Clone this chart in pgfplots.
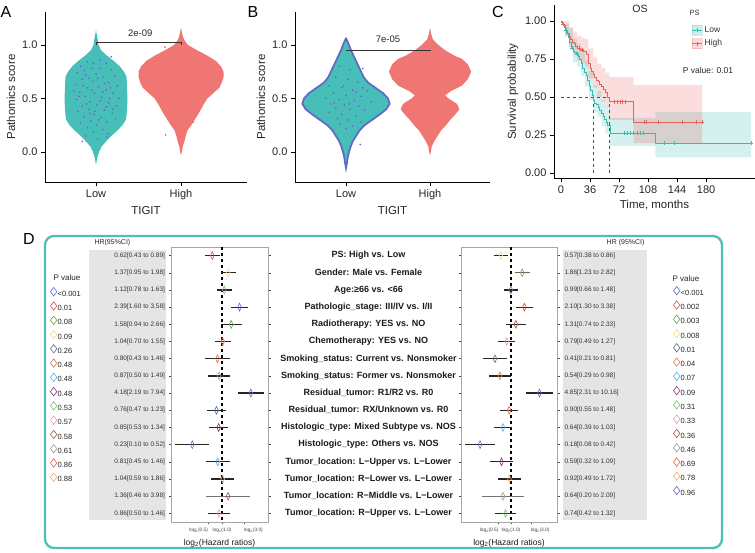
\documentclass[border=0pt]{standalone}
\usepackage{pgfplots}
\pgfplotsset{compat=1.18}
\usepackage{pgfplotstable}
\usepackage{fontspec}
\setmainfont{Liberation Sans}
\setsansfont{Liberation Sans}

\definecolor{vteal}{RGB}{72,190,184}
\definecolor{vred}{RGB}{240,118,115}
\definecolor{vdot}{RGB}{110,95,210}
\definecolor{vout}{RGB}{95,108,198}
\definecolor{kmteal}{RGB}{60,185,180}
\definecolor{kmred}{RGB}{232,98,94}
\definecolor{boxteal}{RGB}{78,190,186}
\definecolor{pA}{RGB}{95,110,205}
\definecolor{pB}{RGB}{222,80,70}
\definecolor{pC}{RGB}{100,165,80}
\definecolor{pD}{RGB}{238,226,120}
\definecolor{pE}{RGB}{75,115,155}
\definecolor{pF}{RGB}{215,120,70}
\definecolor{pG}{RGB}{85,175,225}
\definecolor{pH}{RGB}{135,50,125}
\definecolor{pI}{RGB}{115,195,100}
\definecolor{pJ}{RGB}{228,155,185}
\definecolor{pK}{RGB}{160,90,60}
\definecolor{pL}{RGB}{155,155,155}
\definecolor{pM}{RGB}{232,100,70}
\definecolor{pN}{RGB}{242,170,110}
\definecolor{pO}{RGB}{105,100,185}
\definecolor{ptred}{RGB}{225,95,95}

\newcommand{\fs}[1]{\fontsize{#1}{#1}\selectfont}
% forest row: row, HR, lower, upper, diamond colour, line colour (x axis in log2 units)
\newcommand{\frow}[6]{%
  \addplot[#6, line width=1.3pt, forget plot] table[row sep=\\, x expr={ln(\thisrow{v})/ln(2)}, y=r] {v r\\ #3 #1\\ #4 #1\\};
  \addplot[only marks, mark=diamond, mark size=3.9pt, #5, mark options={xscale=0.62, line width=0.6pt, fill=none}, forget plot] table[row sep=\\, x expr={ln(\thisrow{v})/ln(2)}, y=r] {v r\\ #2 #1\\};
}

\pgfplotstableread{
y w
-0.12 0
-0.05 0.015
0.00 0.035
0.05 0.065
0.10 0.12
0.15 0.18
0.20 0.25
0.25 0.31
0.30 0.35
0.35 0.36
0.40 0.365
0.50 0.37
0.60 0.365
0.70 0.36
0.75 0.33
0.80 0.28
0.85 0.21
0.90 0.13
0.95 0.06
1.00 0.03
1.05 0.02
1.14 0
1.05 -0.02
1.00 -0.03
0.95 -0.06
0.90 -0.13
0.85 -0.21
0.80 -0.28
0.75 -0.33
0.70 -0.36
0.60 -0.365
0.50 -0.37
0.40 -0.365
0.35 -0.36
0.30 -0.35
0.25 -0.31
0.20 -0.25
0.15 -0.18
0.10 -0.12
0.05 -0.065
0.00 -0.035
-0.05 -0.015
}\aLow
\pgfplotstableread{
y w
-0.03 0
0.00 0.01
0.05 0.02
0.10 0.04
0.15 0.055
0.20 0.075
0.25 0.12
0.30 0.16
0.35 0.20
0.40 0.235
0.45 0.27
0.50 0.31
0.55 0.38
0.60 0.45
0.65 0.48
0.70 0.50
0.75 0.50
0.80 0.47
0.85 0.41
0.90 0.31
0.95 0.19
1.00 0.08
1.05 0.035
1.10 0.015
1.16 0
1.10 -0.015
1.05 -0.035
1.00 -0.08
0.95 -0.19
0.90 -0.31
0.85 -0.41
0.80 -0.47
0.75 -0.50
0.70 -0.50
0.65 -0.48
0.60 -0.45
0.55 -0.38
0.50 -0.31
0.45 -0.27
0.40 -0.235
0.35 -0.20
0.30 -0.16
0.25 -0.12
0.20 -0.075
0.15 -0.055
0.10 -0.04
0.05 -0.02
0.00 -0.01
}\aHigh
\pgfplotstableread{
y w
-0.15 0
-0.10 0.012
-0.05 0.02
0.00 0.035
0.05 0.055
0.10 0.08
0.15 0.12
0.20 0.16
0.25 0.22
0.30 0.31
0.35 0.40
0.40 0.48
0.45 0.52
0.50 0.50
0.55 0.44
0.60 0.35
0.65 0.26
0.70 0.21
0.75 0.18
0.80 0.15
0.85 0.12
0.90 0.09
0.95 0.06
1.00 0.035
1.03 0.02
1.06 0
1.03 -0.02
1.00 -0.035
0.95 -0.06
0.90 -0.09
0.85 -0.12
0.80 -0.15
0.75 -0.18
0.70 -0.21
0.65 -0.26
0.60 -0.35
0.55 -0.44
0.50 -0.50
0.45 -0.52
0.40 -0.48
0.35 -0.40
0.30 -0.31
0.25 -0.22
0.20 -0.16
0.15 -0.12
0.10 -0.08
0.05 -0.055
0.00 -0.035
-0.05 -0.02
-0.10 -0.012
}\bLow
\pgfplotstableread{
y w
-0.03 0
0.00 0.01
0.05 0.02
0.10 0.05
0.15 0.09
0.20 0.13
0.25 0.19
0.30 0.24
0.35 0.30
0.40 0.35
0.45 0.32
0.50 0.22
0.53 0.18
0.57 0.25
0.62 0.38
0.68 0.45
0.75 0.49
0.82 0.45
0.87 0.38
0.90 0.29
0.95 0.18
1.00 0.10
1.05 0.035
1.10 0.015
1.16 0
1.10 -0.015
1.05 -0.035
1.00 -0.10
0.95 -0.18
0.90 -0.29
0.87 -0.38
0.82 -0.45
0.75 -0.49
0.68 -0.45
0.62 -0.38
0.57 -0.25
0.53 -0.18
0.50 -0.22
0.45 -0.32
0.40 -0.35
0.35 -0.30
0.30 -0.24
0.25 -0.19
0.20 -0.13
0.15 -0.09
0.10 -0.05
0.05 -0.02
0.00 -0.01
}\bHigh

\pgfplotsset{
  vax/.style={scale only axis, height=170pt, ymin=-0.28, ymax=1.308,
    axis x line*=bottom, axis y line*=left,
    axis line style={-, line width=0.8pt, black},
    tick style={line width=0.8pt, black}, major tick length=4pt, tick align=outside,
    xtick={1,2}, xticklabels={Low,High},
    ytick={0,0.5,1}, yticklabels={0.0,0.5,1.0},
    ticklabel style={font=\fs{11}, text=black!85},
    xlabel={TIGIT}, ylabel={Pathomics score},
    label style={font=\fs{11.5}, text=black!85}, clip=false},
}

\begin{document}
\begin{tikzpicture}[x=1pt,y=1pt]

% ---------------- Panel A ----------------
\node[font=\fs{16}] at (6pt,541pt) {A};
\begin{axis}[vax, at={(45pt,371pt)}, anchor=south west, width=202pt, xmin=0.4, xmax=2.776]
\addplot[fill=vteal, draw=none] table[x expr=1+\thisrow{w}, y=y]{\aLow} -- cycle;
\addplot[fill=vred, draw=none] table[x expr=2+\thisrow{w}, y=y]{\aHigh} -- cycle;
\addplot[only marks, mark=*, mark size=0.6pt, vdot] coordinates {
(0.82,0.80) (0.90,0.84) (1.05,0.86) (1.12,0.83) (0.95,0.78) (1.18,0.77) (0.78,0.74) (0.88,0.72) (1.00,0.73) (1.09,0.70)
(1.22,0.71) (0.84,0.68) (0.96,0.66) (1.15,0.65) (1.25,0.62) (0.76,0.63) (0.90,0.60) (1.03,0.61) (1.12,0.58) (0.81,0.56)
(0.98,0.55) (1.20,0.55) (0.87,0.52) (1.07,0.51) (1.27,0.50) (0.77,0.49) (0.93,0.47) (1.15,0.46) (1.01,0.44) (0.84,0.43)
(1.24,0.43) (0.92,0.40) (1.10,0.39) (0.79,0.38) (1.19,0.36) (0.98,0.35) (0.86,0.33) (1.06,0.32) (1.23,0.31) (0.94,0.29)
(1.13,0.28) (0.82,0.27) (1.01,0.25) (0.90,0.23) (1.08,0.21) (0.97,0.19) (1.14,0.17) (0.88,0.15) (1.02,0.12)
(0.86,0.76) (1.02,0.69) (1.17,0.60) (0.95,0.58) (1.05,0.48) (0.89,0.45) (1.12,0.42) (0.99,0.38) (1.03,0.30) (0.93,0.36)
(1.08,0.56) (0.80,0.52) (1.16,0.50) (0.92,0.69) (1.20,0.40) (1.05,0.78) (0.85,0.62) (0.97,0.83) (1.10,0.64) (0.74,0.57)
(1.18,0.89) (0.84,0.10) (1.13,0.14)};
\addplot[only marks, mark=*, mark size=0.6pt, ptred] coordinates {(1.81,0.98) (2.14,0.28) (1.82,0.16)};
\addplot[black!80, line width=0.5pt] coordinates {(1,1.0) (1,1.023) (2,1.023) (2,1.0)};
\node[font=\fs{9.5}, text=black!85] at (axis cs:1.52,1.11) {2e-09};
\end{axis}

% ---------------- Panel B ----------------
\node[font=\fs{16}] at (253pt,541pt) {B};
\begin{axis}[vax, at={(295pt,371pt)}, anchor=south west, width=195pt, xmin=0.393, xmax=2.714]
\addplot[fill=vteal, draw=vout, line width=1.8pt] table[x expr=1+\thisrow{w}, y=y]{\bLow} -- cycle;
\addplot[fill=vred, draw=none] table[x expr=2+\thisrow{w}, y=y]{\bHigh} -- cycle;
\addplot[only marks, mark=*, mark size=0.6pt, vdot] coordinates {
(0.92,0.80) (1.05,0.77) (1.20,0.78) (0.88,0.70) (1.02,0.68) (1.14,0.65) (0.80,0.62) (0.95,0.60) (1.08,0.58) (1.25,0.57)
(0.85,0.55) (1.00,0.53) (1.18,0.52) (0.76,0.50) (0.92,0.49) (1.10,0.48) (1.30,0.47) (0.82,0.45) (0.98,0.44) (1.15,0.43)
(0.88,0.41) (1.05,0.40) (1.22,0.39) (0.80,0.37) (0.95,0.35) (1.12,0.34) (0.90,0.31) (1.03,0.30) (1.18,0.28) (0.93,0.26)
(1.08,0.24) (1.00,0.22) (1.17,0.07) (0.97,0.62) (1.12,0.56) (0.86,0.46) (1.20,0.60) (1.04,0.45)};
\addplot[black!80, line width=0.5pt] coordinates {(1,0.94) (1,0.953) (2,0.953) (2,0.94)};
\node[font=\fs{9.5}, text=black!85] at (axis cs:1.5,1.053) {7e-05};
\end{axis}

% ---------------- Panel C ----------------
\node[font=\fs{16}] at (498pt,541pt) {C};
\begin{axis}[at={(554pt,375pt)}, anchor=south west, scale only axis, width=201pt, height=173pt,
  xmin=-8.7, xmax=240.7, ymin=-0.033, ymax=1.105,
  axis x line*=bottom, axis y line*=left,
  axis line style={-, line width=0.8pt, black},
  tick style={line width=0.8pt, black}, major tick length=4pt, tick align=outside,
  xtick={0,36,72,108,144,180}, xticklabels={0,36,72,108,144,180},
  ytick={0,0.25,0.5,0.75,1}, yticklabels={0.00,0.25,0.50,0.75,1.00},
  ticklabel style={font=\fs{11}, text=black!85},
  xlabel={Time, months}, ylabel={Survival probability},
  label style={font=\fs{11.5}, text=black!85}, clip=false,
  legend style={at={(0.67,0.9)}, anchor=north west, draw=none, fill=none, font=\fs{8.5}, row sep=2pt, text=black!80},
  legend cell align=left]
\addplot[fill=kmteal, fill opacity=0.22, draw=none, forget plot] coordinates {
(0,1.0) (5,1.0) (5,0.98) (10,0.98) (10,0.95) (15,0.95) (15,0.88) (20,0.88) (20,0.85) (25,0.85) (25,0.80) (30,0.80) (30,0.74) (35,0.74) (35,0.67) (40,0.67) (40,0.58) (45,0.58) (45,0.54) (50,0.54) (50,0.48) (55,0.48) (55,0.43) (61,0.43) (61,0.36) (117,0.36) (117,0.40) (236,0.40)
(236,0.103) (117,0.103) (117,0.178) (61,0.178) (61,0.26) (55,0.26) (55,0.31) (50,0.31) (50,0.37) (45,0.37) (45,0.40) (40,0.40) (40,0.48) (35,0.48) (35,0.57) (30,0.57) (30,0.64) (25,0.64) (25,0.70) (20,0.70) (20,0.73) (15,0.73) (15,0.83) (10,0.83) (10,0.90) (5,0.90) (5,1.0) (0,1.0)} -- cycle;
\addplot[fill=kmred, fill opacity=0.22, draw=none, forget plot] coordinates {
(0,1.0) (10,1.0) (10,0.96) (15,0.96) (15,0.93) (20,0.93) (20,0.90) (25,0.90) (25,0.89) (30,0.89) (30,0.88) (34,0.88) (34,0.82) (40,0.82) (40,0.76) (45,0.76) (45,0.72) (50,0.72) (50,0.69) (55,0.69) (55,0.66) (60,0.66) (60,0.63) (90,0.63) (90,0.58) (175,0.58)
(175,0.197) (90,0.197) (90,0.35) (60,0.35) (60,0.43) (55,0.43) (55,0.47) (50,0.47) (50,0.50) (45,0.50) (45,0.56) (40,0.56) (40,0.62) (34,0.62) (34,0.70) (30,0.70) (30,0.72) (25,0.72) (25,0.74) (20,0.74) (20,0.78) (15,0.78) (15,0.83) (10,0.83) (10,0.90) (5,0.90) (5,1.0) (0,1.0)} -- cycle;
\addplot[black!70, dashed, line width=0.5pt, forget plot] coordinates {(0,0.5) (60,0.5)};
\addplot[black!70, dashed, line width=0.5pt, forget plot] coordinates {(40,0) (40,0.5)};
\addplot[black!70, dashed, line width=0.5pt, forget plot] coordinates {(60,0) (60,0.5)};
\addplot[kmteal, line width=0.8pt, const plot, legend image code/.code={\fill[kmteal, opacity=0.25] (0pt,-5pt) rectangle (10pt,5pt); \draw[kmteal, line width=0.8pt] (0pt,0pt) -- (10pt,0pt); \draw[kmteal, line width=0.6pt] (5pt,-2pt) -- (5pt,2pt);}] coordinates {
(0,1.0) (1,0.99) (3,0.97) (5,0.94) (7,0.92) (9,0.89) (11,0.86) (13,0.82) (15,0.80) (17,0.79) (19,0.78) (21,0.77) (23,0.75) (25,0.72) (27,0.69) (29,0.66) (31,0.64) (33,0.61) (35,0.57) (37,0.54) (39,0.51) (40,0.48) (42,0.46) (44,0.45) (46,0.43) (48,0.41) (50,0.39) (52,0.37) (54,0.35) (56,0.33) (58,0.31) (61,0.26) (117,0.197) (236,0.197)};
\addlegendentry{Low}
\addplot[kmred, line width=0.8pt, const plot, legend image code/.code={\fill[kmred, opacity=0.25] (0pt,-5pt) rectangle (10pt,5pt); \draw[kmred, line width=0.8pt] (0pt,0pt) -- (10pt,0pt); \draw[kmred, line width=0.6pt] (5pt,-2pt) -- (5pt,2pt);}] coordinates {
(0,1.0) (2,0.98) (4,0.96) (6,0.94) (8,0.92) (10,0.90) (12,0.88) (14,0.86) (16,0.85) (18,0.83) (20,0.82) (24,0.81) (28,0.80) (32,0.78) (34,0.72) (36,0.69) (38,0.67) (40,0.65) (42,0.63) (44,0.61) (46,0.60) (48,0.58) (50,0.57) (52,0.55) (55,0.53) (58,0.50) (60,0.47) (90,0.334) (175,0.334)};
\addlegendentry{High}
\addplot[only marks, mark=+, mark size=2pt, kmteal, forget plot] coordinates {(6,0.94) (14,0.82) (20,0.78) (78,0.26) (82,0.26) (86,0.26) (90,0.26) (94,0.26) (98,0.26) (102,0.26) (128,0.197) (140,0.197) (236,0.197)};
\addplot[only marks, mark=+, mark size=2pt, kmred, forget plot] coordinates {(3,0.98) (22,0.82) (26,0.81) (66,0.47) (70,0.47) (73,0.47) (76,0.47) (80,0.47) (103,0.334) (106,0.334) (120,0.334) (150,0.334) (168,0.334) (175,0.334)};
\end{axis}
\node[font=\fs{10.5}, text=black!85] at (640pt,544pt) {OS};
\node[font=\fs{7.5}, text=black!80, anchor=west] at (686pt,540pt) {PS};
\node[font=\fs{8.5}, text=black!85] at (708pt,483pt) {P value: 0.01};

% ---------------- Panel D ----------------
\node[font=\fs{16}] at (29pt,314pt) {D};
\draw[boxteal, line width=2.3pt, rounded corners=9pt] (45pt,317pt) rectangle (722pt,5pt);
\fill[gray!20] (89pt,303pt) rectangle (166pt,33pt);
\fill[gray!20] (563pt,303pt) rectangle (647pt,33pt);
\node[font=\fs{7}, text=black!85, anchor=west] at (91pt,310pt) {HR(95\%CI)};
\node[font=\fs{7}, text=black!85, anchor=east] at (648pt,310pt) {HR (95\%CI)};
\node[font=\fs{8}, text=black!85, anchor=west] at (50pt,275pt) {P value};
\node[font=\fs{8}, text=black!85, anchor=west] at (669pt,274pt) {P value};

% left forest (x in log2 units)
\begin{axis}[scale only axis, at={(171pt,31pt)}, anchor=south west, width=97pt, height=275pt,
  xmin=-3.64, xmax=3.29, ymin=0.5, ymax=16.5, y dir=reverse, ytick={1,...,16},
  xtick={-1,0,1.585},
  xticklabels={\makebox[0pt][r]{log\textsubscript{2}(0.5)}, {log\textsubscript{2}(1.0)}, \makebox[0pt][l]{log\textsubscript{2}(3.0)}},
  xticklabel style={font=\fs{4.8}, text=black!75},
  axis line style={black!35, line width=0.5pt},
  tick style={black!70, line width=0.5pt}, major tick length=2.5pt, tick align=outside,
  ytick pos=both, xtick pos=bottom, yticklabel pos=left,
  xlabel={log\textsubscript{2}(Hazard ratios)}, xlabel style={font=\fs{8.5}, text=black!90},
  clip=false,
  yticklabels={{0.62[0.43 to 0.89]},{1.37[0.95 to 1.98]},{1.12[0.78 to 1.63]},{2.39[1.60 to 3.58]},{1.58[0.94 to 2.66]},{1.04[0.70 to 1.55]},{0.80[0.43 to 1.46]},{0.87[0.50 to 1.49]},{4.18[2.19 to 7.94]},{0.76[0.47 to 1.23]},{0.85[0.53 to 1.34]},{0.23[0.10 to 0.52]},{0.81[0.45 to 1.46]},{1.04[0.59 to 1.86]},{1.36[0.46 to 3.98]},{0.86[0.50 to 1.46]}},
  yticklabel style={font=\fs{6.5}, text=black!80}]
\addplot[black, line width=1.3pt, dash pattern=on 3.5pt off 2.5pt, forget plot] coordinates {(0,0.5) (0,16.5)};
\frow{1}{0.62}{0.43}{0.89}{pB}{black!85}
\frow{2}{1.37}{0.95}{1.98}{pD}{black!85}
\frow{3}{1.12}{0.78}{1.63}{pI}{black!85}
\frow{4}{2.39}{1.60}{3.58}{pA}{black!85}
\frow{5}{1.58}{0.94}{2.66}{pC}{black!85}
\frow{6}{1.04}{0.70}{1.55}{pM}{black!85}
\frow{7}{0.80}{0.43}{1.46}{pF}{black!85}
\frow{8}{0.87}{0.50}{1.49}{pL}{black!85}
\frow{9}{4.18}{2.19}{7.94}{pA}{black!85}
\frow{10}{0.76}{0.47}{1.23}{pE}{black!85}
\frow{11}{0.85}{0.53}{1.34}{pH}{black!85}
\frow{12}{0.23}{0.10}{0.52}{pA}{black!85}
\frow{13}{0.81}{0.45}{1.46}{pG}{black!85}
\frow{14}{1.04}{0.59}{1.86}{pN}{black!85}
\frow{15}{1.36}{0.46}{3.98}{pK}{black!55}
\frow{16}{0.86}{0.50}{1.46}{pJ}{black!85}
\end{axis}

% right forest (x in log2 units); its y tick labels are the centred middle column
\begin{axis}[scale only axis, at={(461pt,31pt)}, anchor=south west, width=96pt, height=275pt,
  xmin=-4.0, xmax=3.68, ymin=0.5, ymax=16.5, y dir=reverse, ytick={1,...,16},
  xtick={-1,0,1.585},
  xticklabels={\makebox[0pt][r]{log\textsubscript{2}(0.5)}, {log\textsubscript{2}(1.0)}, \makebox[0pt][l]{log\textsubscript{2}(3.0)}},
  xticklabel style={font=\fs{4.8}, text=black!75},
  axis line style={black!35, line width=0.5pt},
  tick style={black!70, line width=0.5pt}, major tick length=2.5pt, tick align=outside,
  ytick pos=both, xtick pos=bottom, yticklabel pos=left,
  xlabel={log\textsubscript{2}(Hazard ratios)}, xlabel style={font=\fs{8.5}, text=black!90},
  clip=false,
  yticklabels={{PS: High vs. Low},{Gender: Male vs. Female},{Age:≥66 vs. <66},{Pathologic\_stage: III/IV vs. I/II},{Radiotherapy: YES vs. NO},{Chemotherapy: YES vs. NO},{Smoking\_status: Current vs. Nonsmoker},{Smoking\_status: Former vs. Nonsmoker},{Residual\_tumor: R1/R2 vs. R0},{Residual\_tumor: RX/Unknown vs. R0},{Histologic\_type: Mixed Subtype vs. NOS},{Histologic\_type: Others vs. NOS},{Tumor\_location: L−Upper vs. L−Lower},{Tumor\_location: R−Lower vs. L−Lower},{Tumor\_location: R−Middle vs. L−Lower},{Tumor\_location: R−Upper vs. L−Lower}},
  yticklabel style={font=\fs{9}\bfseries, text=black!90, anchor=center, xshift=-90pt}]
\addplot[black, line width=1.3pt, dash pattern=on 3.5pt off 2.5pt, forget plot] coordinates {(0,0.5) (0,16.5)};
\frow{1}{0.57}{0.38}{0.86}{pD}{black!85}
\frow{2}{1.86}{1.23}{2.82}{pC}{black!60}
\frow{3}{0.99}{0.66}{1.48}{pO}{black!85}
\frow{4}{2.10}{1.30}{3.38}{pB}{black!85}
\frow{5}{1.31}{0.74}{2.33}{pK}{black!85}
\frow{6}{0.79}{0.49}{1.27}{pJ}{black!85}
\frow{7}{0.41}{0.21}{0.81}{pE}{black!85}
\frow{8}{0.54}{0.29}{0.98}{pF}{black!85}
\frow{9}{4.85}{2.31}{10.16}{pA}{black!85}
\frow{10}{0.90}{0.55}{1.48}{pM}{black!85}
\frow{11}{0.64}{0.39}{1.03}{pG}{black!85}
\frow{12}{0.18}{0.08}{0.42}{pA}{black!85}
\frow{13}{0.59}{0.32}{1.09}{pH}{black!85}
\frow{14}{0.92}{0.49}{1.72}{pN}{black!85}
\frow{15}{0.64}{0.20}{2.09}{pL}{black!55}
\frow{16}{0.74}{0.42}{1.32}{pI}{black!85}
\end{axis}

% right HR labels
\begin{axis}[scale only axis, at={(461pt,31pt)}, anchor=south west, width=96pt, height=275pt,
  xmin=0, xmax=1, ymin=0.5, ymax=16.5, y dir=reverse, ytick={1,...,16}, xtick=\empty,
  axis line style={draw=none}, ytick style={draw=none}, yticklabel pos=right,
  yticklabels={{0.57[0.38 to 0.86]},{1.86[1.23 to 2.82]},{0.99[0.66 to 1.48]},{2.10[1.30 to 3.38]},{1.31[0.74 to 2.33]},{0.79[0.49 to 1.27]},{0.41[0.21 to 0.81]},{0.54[0.29 to 0.98]},{4.85[2.31 to 10.16]},{0.90[0.55 to 1.48]},{0.64[0.39 to 1.03]},{0.18[0.08 to 0.42]},{0.59[0.32 to 1.09]},{0.92[0.49 to 1.72]},{0.64[0.20 to 2.09]},{0.74[0.42 to 1.32]}},
  yticklabel style={font=\fs{6.5}, text=black!80, xshift=4pt}]
\addplot[draw=none, forget plot] coordinates {(0.5,1)};
\end{axis}

% p-value legends (legend-only axes spanning the picture)
\begin{axis}[scale only axis, at={(0pt,0pt)}, anchor=south west, width=755pt, height=553pt,
  xmin=0, xmax=1, ymin=0, ymax=1, hide axis,
  legend style={at={(0.0662,0.4810)}, anchor=north west, draw=none, fill=none, font=\fs{7.5}, row sep=0pt, inner sep=0pt, text=black!85,
    nodes={inner sep=0.5pt, text height=8.5pt, text depth=4.65pt}},
  legend cell align=left,
  legend image code/.code={\draw[#1, line width=0.6pt] (0pt,2.7pt) -- (3.2pt,6.9pt) -- (6.4pt,2.7pt) -- (3.2pt,-1.5pt) -- cycle;}]
\addplot[draw=none, forget plot] coordinates {(0.5,0.5)};
\addlegendimage{pA}\addlegendentry{<0.001}
\addlegendimage{pB}\addlegendentry{0.01}
\addlegendimage{pC}\addlegendentry{0.08}
\addlegendimage{pD}\addlegendentry{0.09}
\addlegendimage{pE}\addlegendentry{0.26}
\addlegendimage{pF}\addlegendentry{0.48}
\addlegendimage{pG}\addlegendentry{0.48}
\addlegendimage{pH}\addlegendentry{0.48}
\addlegendimage{pI}\addlegendentry{0.53}
\addlegendimage{pJ}\addlegendentry{0.57}
\addlegendimage{pK}\addlegendentry{0.58}
\addlegendimage{pL}\addlegendentry{0.61}
\addlegendimage{pM}\addlegendentry{0.86}
\addlegendimage{pN}\addlegendentry{0.88}
\end{axis}
\begin{axis}[scale only axis, at={(0pt,0pt)}, anchor=south west, width=755pt, height=553pt,
  xmin=0, xmax=1, ymin=0, ymax=1, hide axis,
  legend style={at={(0.8914,0.4828)}, anchor=north west, draw=none, fill=none, font=\fs{7.5}, row sep=0pt, inner sep=0pt, text=black!85,
    nodes={inner sep=0.5pt, text height=8.5pt, text depth=4.65pt}},
  legend cell align=left,
  legend image code/.code={\draw[#1, line width=0.6pt] (0pt,2.7pt) -- (3.2pt,6.9pt) -- (6.4pt,2.7pt) -- (3.2pt,-1.5pt) -- cycle;}]
\addplot[draw=none, forget plot] coordinates {(0.5,0.5)};
\addlegendimage{pA}\addlegendentry{<0.001}
\addlegendimage{pB}\addlegendentry{0.002}
\addlegendimage{pC}\addlegendentry{0.003}
\addlegendimage{pD}\addlegendentry{0.008}
\addlegendimage{pE}\addlegendentry{0.01}
\addlegendimage{pF}\addlegendentry{0.04}
\addlegendimage{pG}\addlegendentry{0.07}
\addlegendimage{pH}\addlegendentry{0.09}
\addlegendimage{pI}\addlegendentry{0.31}
\addlegendimage{pJ}\addlegendentry{0.33}
\addlegendimage{pK}\addlegendentry{0.36}
\addlegendimage{pL}\addlegendentry{0.46}
\addlegendimage{pM}\addlegendentry{0.69}
\addlegendimage{pN}\addlegendentry{0.78}
\addlegendimage{pO}\addlegendentry{0.96}
\end{axis}

\pgfresetboundingbox
\path[use as bounding box] (0pt,0pt) rectangle (755pt,553pt);
\end{tikzpicture}
\end{document}
